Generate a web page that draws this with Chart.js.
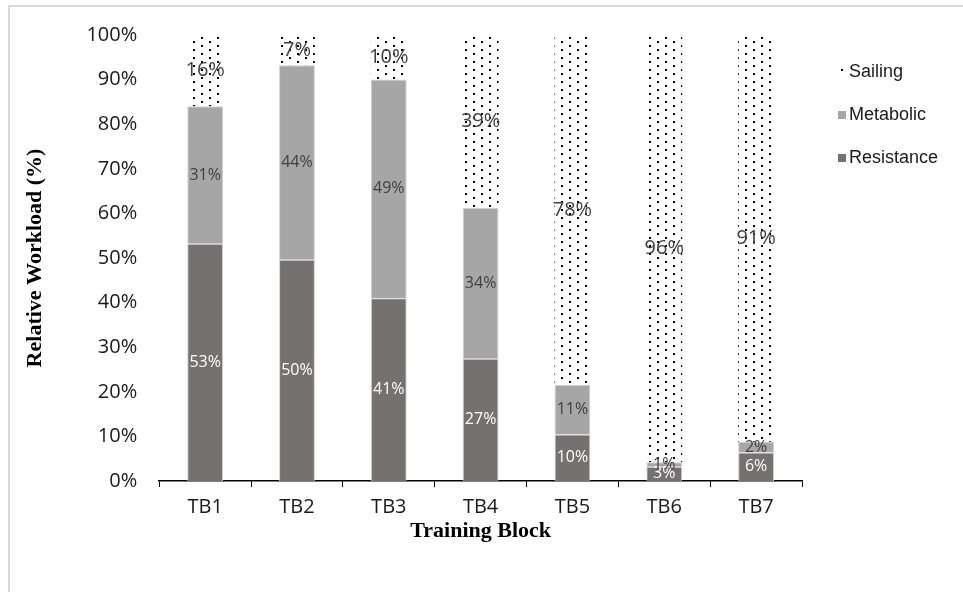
<!DOCTYPE html>
<html lang="en">
<head>
<meta charset="UTF-8">
<title>Relative Workload by Training Block</title>
<script src="https://cdn.jsdelivr.net/npm/chart.js@4"></script>
<style>
  body { margin: 0; background: #fff; }
  .frame {
    position: absolute; left: 8px; top: 5px;
    width: 1000px; height: 700px;
    border: 2px solid #d9d9d9;
  }
  .wrap { position: absolute; left: 0; top: 0; width: 963px; height: 592px; }
</style>
</head>
<body>
<div class="frame"></div>
<div class="wrap"><canvas id="chart"></canvas></div>
<script>
// data (percent of total workload)
const blocks = ['TB1', 'TB2', 'TB3', 'TB4', 'TB5', 'TB6', 'TB7'];
const resistance = [53.2, 49.6, 41.0, 27.4, 10.4, 3.2, 6.4];
const metabolic  = [30.8, 43.6, 49.0, 33.8, 11.2, 1.0, 2.4];
const sailing    = [16.0, 6.8, 10.0, 38.8, 78.4, 95.8, 91.2];
const yTicks = [0, 10, 20, 30, 40, 50, 60, 70, 80, 90, 100];

const tickFont = '"Open Sans", sans-serif';
const serif = '"Liberation Serif", "Times New Roman", serif';

// dotted fill for Sailing
function dotPattern() {
  const c = document.createElement('canvas');
  c.width = 16; c.height = 8;
  const g = c.getContext('2d');
  g.fillStyle = '#fff';
  g.fillRect(0, 0, 16, 8);
  g.fillStyle = '#000';
  g.fillRect(1, 1, 2, 2);
  g.fillRect(9, 5, 2, 2);
  return g.createPattern(c, 'repeat');
}
const dots = dotPattern();

// percentage written in the middle of each segment
const segLabels = {
  id: 'segLabels',
  afterDatasetsDraw(chart) {
    const ctx = chart.ctx;
    chart.data.datasets.forEach((ds, i) => {
      const meta = chart.getDatasetMeta(i);
      meta.data.forEach((bar, j) => {
        ctx.save();
        ctx.font = ds.labelFont;
        ctx.fillStyle = ds.labelColor;
        ctx.textAlign = 'center';
        ctx.textBaseline = 'middle';
        ctx.fillText(Math.round(ds.data[j]) + '%', bar.x, (bar.y + bar.base) / 2);
        ctx.restore();
      });
    });
  }
};

// legend on the right, top item = top series
const sideLegend = {
  id: 'sideLegend',
  afterDraw(chart) {
    const ctx = chart.ctx;
    const a = chart.chartArea;
    const x = a.right + 36;
    let y = a.top + 37;
    chart.data.datasets.slice().reverse().forEach(ds => {
      ctx.save();
      ctx.fillStyle = ds.backgroundColor;
      ctx.fillRect(x, y - 4, 8, 8);
      ctx.font = '18px "Liberation Sans", Arial, sans-serif';
      ctx.fillStyle = '#1a1a1a';
      ctx.textBaseline = 'middle';
      ctx.fillText(ds.label, x + 11, y);
      ctx.restore();
      y += 43;
    });
  }
};

new Chart(document.getElementById('chart'), {
  type: 'bar',
  data: {
    labels: blocks,
    datasets: [
      {
        label: 'Resistance', data: resistance,
        backgroundColor: '#767171', borderColor: '#d0d0d0', borderWidth: 1,
        labelColor: '#ffffff', labelFont: '16px ' + tickFont
      },
      {
        label: 'Metabolic', data: metabolic,
        backgroundColor: '#a6a6a6', borderColor: '#d0d0d0', borderWidth: 1,
        labelColor: '#404040', labelFont: '16px ' + tickFont
      },
      {
        label: 'Sailing', data: sailing,
        backgroundColor: dots, borderWidth: 0,
        labelColor: '#404040', labelFont: '20px ' + tickFont
      }
    ]
  },
  options: {
    responsive: true,
    maintainAspectRatio: false,
    animation: false,
    barPercentage: 0.39,
    categoryPercentage: 1,
    layout: { padding: { left: 20, right: 161, top: 35, bottom: 50 } },
    plugins: {
      legend: { display: false },
      tooltip: { enabled: false }
    },
    scales: {
      x: {
        stacked: true,
        grid: { display: true, drawOnChartArea: false, drawTicks: true, tickLength: 6, color: '#000', offset: true },
        border: { display: true, color: '#000', width: 1.5 },
        ticks: { color: '#1a1a1a', font: { family: tickFont, size: 20, lineHeight: 1 }, padding: 10 },
        title: {
          display: true, text: 'Training Block', color: '#000',
          font: { family: serif, size: 22, weight: 'bold', lineHeight: 1 }, padding: { top: -7, bottom: 0 }
        }
      },
      y: {
        stacked: true,
        min: 0, max: 100,
        afterBuildTicks: s => { s.ticks = yTicks.map(v => ({ value: v })); },
        grid: { display: false, drawTicks: false },
        border: { display: false },
        ticks: {
          color: '#1a1a1a', font: { family: tickFont, size: 20 }, padding: 22,
          callback: v => v + '%'
        },
        title: {
          display: true, text: 'Relative Workload (%)', color: '#000',
          font: { family: serif, size: 22, weight: 'bold' }, padding: { top: 2, bottom: 16 }
        }
      }
    }
  },
  plugins: [segLabels, sideLegend]
});
</script>
</body>
</html>
